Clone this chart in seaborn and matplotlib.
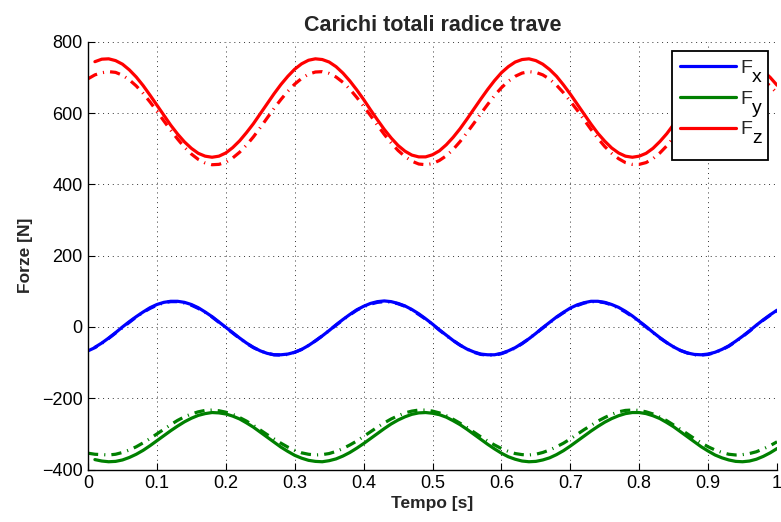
import matplotlib
matplotlib.use("Agg")
import matplotlib.pyplot as plt
from matplotlib.transforms import IdentityTransform
from matplotlib.offsetbox import DrawingArea
import numpy as np
import pandas as pd
import seaborn as sns

# ---------------- data ----------------
t_solid = [0.01, 0.02, 0.03, 0.04, 0.05, 0.06, 0.07, 0.08, 0.09, 0.10,
           0.11, 0.12, 0.13, 0.14, 0.15, 0.16, 0.17, 0.18, 0.19, 0.20,
           0.21, 0.22, 0.23, 0.24, 0.25, 0.26, 0.27, 0.28, 0.29, 0.30,
           0.31, 0.32, 0.33, 0.34, 0.35, 0.36, 0.37, 0.38, 0.39, 0.40,
           0.41, 0.42, 0.43, 0.44, 0.45, 0.46, 0.47, 0.48, 0.49, 0.50,
           0.51, 0.52, 0.53, 0.54, 0.55, 0.56, 0.57, 0.58, 0.59, 0.60,
           0.61, 0.62, 0.63, 0.64, 0.65, 0.66, 0.67, 0.68, 0.69, 0.70,
           0.71, 0.72, 0.73, 0.74, 0.75, 0.76, 0.77, 0.78, 0.79, 0.80,
           0.81, 0.82, 0.83, 0.84, 0.85, 0.86, 0.87, 0.88, 0.89, 0.90,
           0.91, 0.92, 0.93, 0.94, 0.95, 0.96, 0.97, 0.98, 0.99, 1.00]
t_dash = [0.00,
          0.01, 0.02, 0.03, 0.04, 0.05, 0.06, 0.07, 0.08, 0.09, 0.10,
          0.11, 0.12, 0.13, 0.14, 0.15, 0.16, 0.17, 0.18, 0.19, 0.20,
          0.21, 0.22, 0.23, 0.24, 0.25, 0.26, 0.27, 0.28, 0.29, 0.30,
          0.31, 0.32, 0.33, 0.34, 0.35, 0.36, 0.37, 0.38, 0.39, 0.40,
          0.41, 0.42, 0.43, 0.44, 0.45, 0.46, 0.47, 0.48, 0.49, 0.50,
          0.51, 0.52, 0.53, 0.54, 0.55, 0.56, 0.57, 0.58, 0.59, 0.60,
          0.61, 0.62, 0.63, 0.64, 0.65, 0.66, 0.67, 0.68, 0.69, 0.70,
          0.71, 0.72, 0.73, 0.74, 0.75, 0.76, 0.77, 0.78, 0.79, 0.80,
          0.81, 0.82, 0.83, 0.84, 0.85, 0.86, 0.87, 0.88, 0.89, 0.90,
          0.91, 0.92, 0.93, 0.94, 0.95, 0.96, 0.97, 0.98, 0.99, 1.00]

fx_solid = [-57, -45, -31, -16, 0, 15, 29, 42, 54, 63,
            69, 72, 72, 69, 63, 54, 42, 29, 14, -1,
            -16, -31, -45, -57, -67, -74, -78, -78, -76, -71,
            -63, -52, -39, -25, -10, 6, 21, 35, 48, 58,
            66, 71, 73, 71, 66, 59, 49, 37, 23, 8,
            -8, -23, -38, -51, -62, -70, -76, -78, -78, -74,
            -67, -58, -46, -33, -18, -2, 13, 28, 41, 53,
            62, 68, 72, 72, 69, 63, 55, 44, 31, 16,
            1, -15, -30, -44, -56, -66, -73, -77, -78, -76,
            -71, -63, -53, -40, -26, -11, 5, 20, 34, 47]
fx_dash = [-67,
           -58, -46, -32, -17, -2, 13, 28, 41, 52, 61,
           68, 71, 71, 67, 61, 52, 41, 28, 13, -2,
           -17, -32, -46, -58, -67, -74, -78, -79, -77, -71,
           -63, -52, -39, -25, -10, 5, 20, 34, 47, 57,
           64, 69, 71, 70, 65, 58, 48, 35, 22, 7,
           -9, -24, -38, -51, -62, -71, -77, -79, -79, -75,
           -68, -59, -47, -33, -18, -3, 12, 27, 40, 51,
           60, 67, 71, 71, 68, 62, 53, 42, 29, 15,
           0, -16, -31, -44, -56, -66, -73, -78, -79, -77,
           -72, -64, -54, -41, -27, -12, 4, 19, 33, 45]

fy_solid = [-372, -376, -378, -377, -373, -366, -357, -346, -333, -319,
            -305, -291, -278, -266, -256, -248, -243, -240, -241, -244,
            -250, -258, -269, -281, -295, -309, -323, -337, -349, -360,
            -368, -374, -377, -378, -375, -370, -362, -352, -340, -327,
            -313, -299, -285, -272, -261, -252, -245, -241, -240, -242,
            -246, -253, -263, -274, -287, -301, -315, -329, -342, -354,
            -364, -371, -376, -378, -377, -373, -367, -358, -347, -334,
            -320, -306, -292, -279, -267, -257, -249, -243, -240, -240,
            -243, -249, -257, -268, -280, -294, -308, -322, -336, -348,
            -359, -367, -373, -377, -378, -376, -371, -363, -353, -341]
fy_dash = [-354,
           -357, -358, -359, -357, -352, -345, -336, -325, -313, -300,
           -287, -274, -262, -252, -244, -238, -234, -233, -235, -239,
           -245, -254, -264, -276, -289, -302, -314, -326, -337, -346,
           -353, -357, -359, -358, -355, -349, -341, -331, -320, -307,
           -294, -281, -269, -258, -249, -241, -236, -233, -233, -236,
           -241, -249, -259, -270, -282, -295, -308, -320, -331, -341,
           -349, -355, -358, -359, -357, -352, -345, -336, -326, -314,
           -301, -288, -276, -264, -254, -245, -238, -234, -233, -234,
           -238, -244, -253, -263, -275, -287, -300, -313, -325, -336,
           -345, -352, -357, -359, -358, -355, -350, -342, -333, -322]

fz_solid = [744, 751, 752, 747, 737, 721, 701, 677, 650, 622,
            594, 566, 541, 519, 501, 487, 479, 476, 479, 488,
            503, 522, 545, 570, 598, 626, 654, 680, 703, 723,
            738, 748, 752, 750, 743, 730, 712, 690, 665, 638,
            609, 581, 554, 530, 509, 493, 482, 477, 477, 483,
            494, 511, 532, 556, 583, 611, 639, 666, 691, 713,
            730, 743, 750, 752, 747, 737, 722, 703, 679, 653,
            625, 597, 569, 543, 521, 502, 488, 479, 476, 479,
            487, 501, 520, 542, 568, 595, 623, 651, 677, 701,
            721, 737, 747, 752, 752, 746, 735, 718, 700, 678]
fz_dash = [696,
           707, 713, 716, 714, 706, 693, 676, 655, 631, 605,
           578, 552, 527, 504, 485, 470, 460, 455, 456, 462,
           474, 490, 510, 533, 559, 586, 613, 638, 661, 681,
           697, 709, 715, 716, 711, 701, 686, 667, 644, 619,
           593, 566, 540, 516, 495, 478, 465, 457, 455, 458,
           467, 480, 498, 520, 545, 571, 598, 624, 649, 671,
           689, 703, 712, 716, 714, 707, 695, 678, 657, 633,
           608, 581, 554, 529, 506, 487, 472, 461, 456, 456,
           461, 472, 488, 508, 531, 556, 583, 610, 636, 659,
           680, 696, 708, 715, 717, 713, 705, 692, 676, 656]

legend_main = ["F", "F", "F"]
legend_sub = ["x", "y", "z"]
series_colors = ["#0000ff", "#008000", "#ff0000"]

x_ticks = [0, 0.1, 0.2, 0.3, 0.4, 0.5, 0.6, 0.7, 0.8, 0.9, 1.0]
x_tick_labels = ["0", "0.1", "0.2", "0.3", "0.4", "0.5", "0.6", "0.7", "0.8", "0.9", "1"]
y_ticks = [-400, -200, 0, 200, 400, 600, 800]

# ---------------- style ----------------
sns.set_theme(style="white")
plt.rcParams["font.family"] = ["Liberation Sans", "DejaVu Sans"]
plt.rcParams["axes.unicode_minus"] = True

fig = plt.figure(figsize=(7.81, 5.22), dpi=100)
ax = fig.add_axes([0.1127, 0.1004, 0.8822, 0.8197])

solid_df = pd.DataFrame({"t": t_solid, "Fx": fx_solid, "Fy": fy_solid, "Fz": fz_solid})
dash_df = pd.DataFrame({"t": t_dash, "Fx": fx_dash, "Fy": fy_dash, "Fz": fz_dash})

lw = 2.3
handles = []
for col, c in zip(["Fx", "Fy", "Fz"], series_colors):
    sns.lineplot(data=solid_df, x="t", y=col, ax=ax, color=c, linewidth=lw,
                 estimator=None, sort=False, legend=False)
    ax.lines[-1].set_solid_joinstyle("round")
    handles.append(ax.lines[-1])
for col, c in zip(["Fx", "Fy", "Fz"], series_colors):
    sns.lineplot(data=dash_df, x="t", y=col, ax=ax, color=c, linewidth=lw,
                 estimator=None, sort=False, legend=False)
    ax.lines[-1].set_linestyle((0, (3.2, 1.9, 0.35, 1.9)))

ax.set_xlim(0, 1)
ax.set_ylim(-400, 800)
ax.set_xticks(x_ticks)
ax.set_xticklabels(x_tick_labels)
ax.set_yticks(y_ticks)

ax.grid(True, which="major", linestyle=(0, (1, 4)), color="#333333", linewidth=0.7)
for s in ["top", "right"]:
    ax.spines[s].set_visible(False)
for s in ["left", "bottom"]:
    ax.spines[s].set_color("black")
    ax.spines[s].set_linewidth(1.0)
ax.tick_params(axis="both", direction="in", length=5, width=0.8, labelsize=13,
               colors="black", pad=4, bottom=True, left=True)

ax.set_title("Carichi totali radice trave", fontsize=15.5, fontweight="bold", pad=8)
ax.set_xlabel("Tempo [s]", fontsize=12.5, fontweight="bold", labelpad=3)
ax.set_ylabel("Forze [N]", fontsize=12.5, fontweight="bold", labelpad=6)

leg_fs = 14
leg = ax.legend(handles=handles, labels=legend_main,
                loc="upper right", bbox_to_anchor=(0.987, 0.978), borderaxespad=0,
                fontsize=leg_fs, handlelength=2.9, handletextpad=0.2,
                labelspacing=0.68, borderpad=0.41, columnspacing=0.0,
                fancybox=False, framealpha=1, edgecolor="black")
leg.get_frame().set_linewidth(1.3)
# room to the right of the labels and below the last entry for the subscripts
leg._legend_handle_box._children.append(DrawingArea(6, 0))
leg._legend_box._children.append(DrawingArea(1, 0))

# subscripts at full size, lowered like in the reference legend
fig.canvas.draw()
renderer = fig.canvas.get_renderer()
for txt, sub in zip(leg.get_texts(), legend_sub):
    bb = txt.get_window_extent(renderer)
    _, _, d = renderer.get_text_width_height_descent(
        "lp", txt.get_fontproperties(), ismath=False)
    base = bb.y0 + d
    fig.text(bb.x1 + 0.5, base - 9, sub, transform=IdentityTransform(),
             fontsize=leg_fs, ha="left", va="baseline", color="black", zorder=10)

fig.savefig("out.png", dpi=100)
